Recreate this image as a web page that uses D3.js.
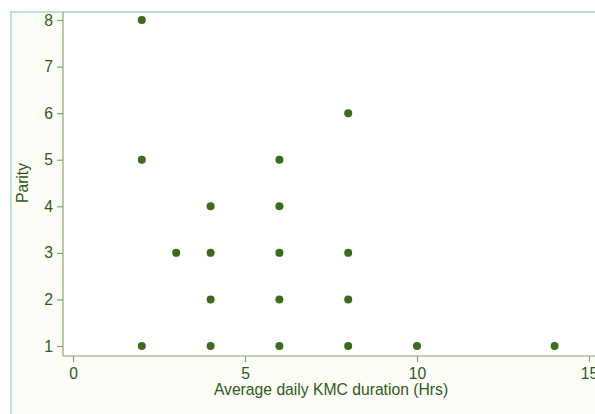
<!DOCTYPE html>
<html><head><meta charset="utf-8">
<script src="https://cdn.jsdelivr.net/npm/d3@7"></script>
<style>body{margin:0;background:#fff}svg{display:block}</style>
</head><body>
<svg id="c" width="595" height="414"></svg>
<script>
const kmcHours = [2,2,2,3,4,4,4,4,6,6,6,6,6,8,8,8,8,10,14];
const parity   = [8,5,1,3,4,3,2,1,5,4,3,2,1,6,3,2,1,1,1];
const xTicks = [0,5,10,15];
const yTicks = [1,2,3,4,5,6,7,8];
const xTitle = "Average daily KMC duration (Hrs)";
const yTitle = "Parity";

const svg = d3.select("#c");
const W = 595, H = 414;
const txt = "#2e5a17", axisCol = "#86a86a", dot = "#3b6b1c";
const font = "'Liberation Sans', Arial, sans-serif";
const fs = 15.7;

svg.append("rect").attr("x",11).attr("y",12).attr("width",W).attr("height",H)
  .attr("fill","#fcfdf6").attr("stroke","#bfe2d5").attr("stroke-width",2);

const x = d3.scaleLinear().domain([0,15]).range([73,589]);
const y = d3.scaleLinear().domain([1,8]).range([346,20]);

svg.append("rect").attr("x",63).attr("y",13).attr("width",W).attr("height",343).attr("fill","#ffffff");

const gx = svg.append("g").attr("transform","translate(0,356)")
  .call(d3.axisBottom(x).tickValues(xTicks).tickFormat(d3.format("d")).tickSize(6).tickPadding(3).tickSizeOuter(0));
gx.select(".domain").remove();
svg.append("line").attr("x1",63).attr("x2",W+5).attr("y1",356).attr("y2",356)
  .attr("stroke",axisCol).attr("stroke-width",1.2);

const gy = svg.append("g").attr("transform","translate(63,0)")
  .call(d3.axisLeft(y).tickValues(yTicks).tickFormat(d3.format("d")).tickSize(6).tickPadding(4).tickSizeOuter(0));
gy.select(".domain").remove();
svg.append("line").attr("x1",63).attr("x2",63).attr("y1",12).attr("y2",356)
  .attr("stroke",axisCol).attr("stroke-width",1.2);

[gx,gy].forEach(g=>{
  g.attr("font-size",fs).attr("font-family",font);
  g.selectAll(".tick line").attr("stroke",axisCol).attr("stroke-width",1.2);
  g.selectAll(".tick text").attr("fill",txt).attr("font-family",font).attr("font-size",fs);
});
gx.selectAll(".tick text").attr("dy","0.9em");

svg.append("text").attr("x",331).attr("y",395).attr("text-anchor","middle")
  .attr("fill",txt).attr("font-family",font).attr("font-size",fs).text(xTitle);
svg.append("text").attr("transform","translate(28,183) rotate(-90)").attr("text-anchor","middle")
  .attr("fill",txt).attr("font-family",font).attr("font-size",fs).text(yTitle);

svg.append("g").selectAll("circle").data(kmcHours.map((h,i)=>[h,parity[i]])).join("circle")
  .attr("cx",d=>x(d[0])).attr("cy",d=>y(d[1])).attr("r",4).attr("fill",dot);
</script>
</body></html>
